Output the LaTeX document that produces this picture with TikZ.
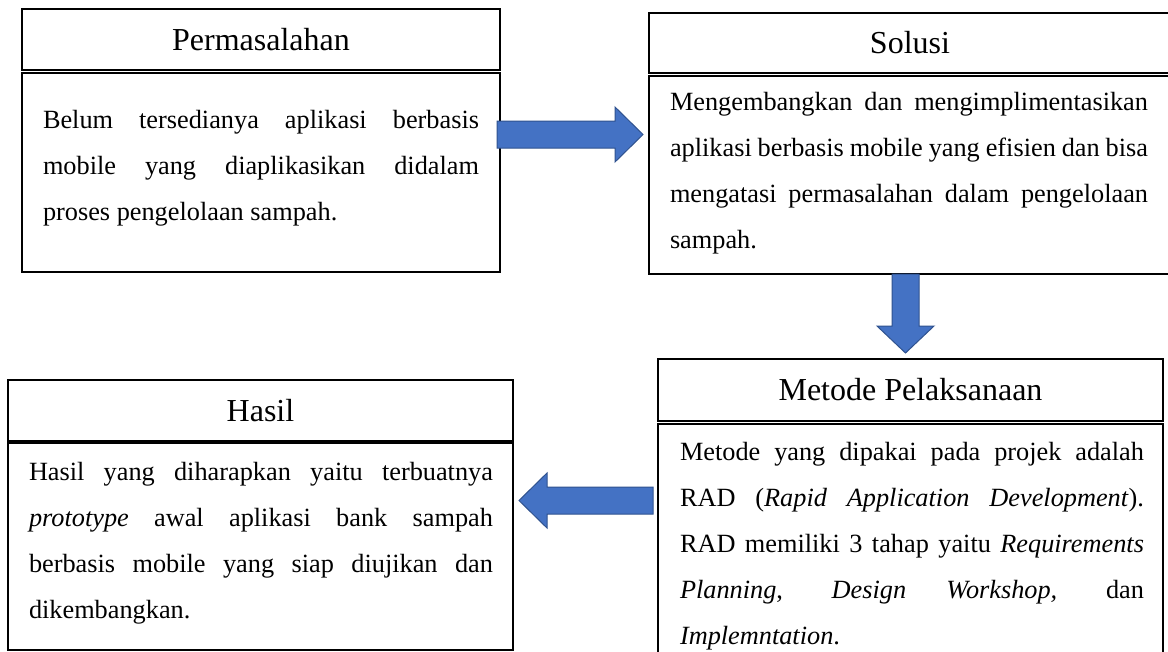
\documentclass[tikz,border=0pt]{standalone}
\usepackage{fontspec}
\setmainfont{Liberation Serif}
\definecolor{arrowfill}{HTML}{4472C4}
\definecolor{arrowline}{HTML}{2F528F}
\newcommand\bodyfnt{\fontsize{26.3}{46}\selectfont}
\newcommand\jl[1]{\makebox[\linewidth][s]{#1}}
\begin{document}
\begin{tikzpicture}[x=1pt,y=-1pt,
  tbox/.style={draw, line width=1.6pt, inner sep=0pt, outer sep=0pt, anchor=north west, font=\fontsize{32}{38}\selectfont},
  bbox/.style={draw, line width=1.6pt, inner sep=0pt, outer sep=0pt, anchor=north west},
  btext/.style={anchor=base west, inner sep=0pt, outer sep=0pt},
  blockarrow/.style={fill=arrowfill, draw=arrowline, line width=1pt, line join=miter}]
\useasboundingbox (0,0) rectangle (1168,651);
\fill[white] (0,0) rectangle (1168,651);
\clip (0,0) rectangle (1168,651);

% Permasalahan
\node[tbox, minimum width=478pt, minimum height=61pt] (ptitle) at (22,9) {Permasalahan};
\node[bbox, minimum width=478pt, minimum height=199pt] (pbody) at (22,73) {};
\node[btext] (ptext) at (43,128) {\parbox[t]{436pt}{\bodyfnt
  \jl{Belum tersedianya aplikasi berbasis}\par
  \jl{mobile yang diaplikasikan didalam}\par
  proses pengelolaan sampah.}};

% Solusi
\node[tbox, minimum width=522pt, minimum height=60pt] (stitle) at (649,13) {Solusi};
\node[bbox, minimum width=522pt, minimum height=198pt] (sbody) at (649,76) {};
\node[btext] (stext) at (670,110) {\parbox[t]{478pt}{\bodyfnt
  \jl{Mengembangkan dan mengimplimentasikan}\par
  \jl{aplikasi berbasis mobile yang efisien dan bisa}\par
  \jl{mengatasi permasalahan dalam pengelolaan}\par
  sampah.}};

% Metode Pelaksanaan
\node[tbox, minimum width=505pt, minimum height=62pt] (mtitle) at (658,359) {Metode Pelaksanaan};
\node[bbox, minimum width=505pt, minimum height=240pt] (mbody) at (658,424) {};
\node[btext] (mtext) at (680,460) {\parbox[t]{464pt}{\bodyfnt
  \jl{Metode yang dipakai pada projek adalah}\par
  \jl{RAD (\textit{Rapid Application Development}).}\par
  \jl{RAD memiliki 3 tahap yaitu \textit{Requirements}}\par
  \jl{\textit{Planning}, \textit{Design Workshop,} dan}\par
  \textit{Implemntation}.}};

% Hasil
\node[tbox, minimum width=505pt, minimum height=61pt] (htitle) at (8,380) {Hasil};
\node[bbox, minimum width=505pt, minimum height=207pt] (hbody) at (8,443) {};
\node[btext] (htext) at (29,480) {\parbox[t]{464pt}{\bodyfnt
  \jl{Hasil yang diharapkan yaitu terbuatnya}\par
  \jl{\textit{prototype} awal aplikasi bank sampah}\par
  \jl{berbasis mobile yang siap diujikan dan}\par
  dikembangkan.}};

% block arrows
\coordinate (ra) at (497,134.5);
\coordinate (da) at (905.5,274);
\coordinate (la) at (653,500.5);
\draw[blockarrow] (ra) ++(0,-13.5) -- ++(118,0) -- ++(0,-14) -- ++(28,27.5)
  -- ++(-28,27.5) -- ++(0,-14) -- ++(-118,0) -- cycle;
\draw[blockarrow] (da) ++(-13.5,0) -- ++(0,52) -- ++(-15,0) -- ++(28.5,27)
  -- ++(28.5,-27) -- ++(-15,0) -- ++(0,-52) -- cycle;
\draw[blockarrow] (la) ++(0,-13.5) -- ++(-106,0) -- ++(0,-14) -- ++(-28,27.5)
  -- ++(28,27.5) -- ++(0,-14) -- ++(106,0) -- cycle;
\end{tikzpicture}
\end{document}
